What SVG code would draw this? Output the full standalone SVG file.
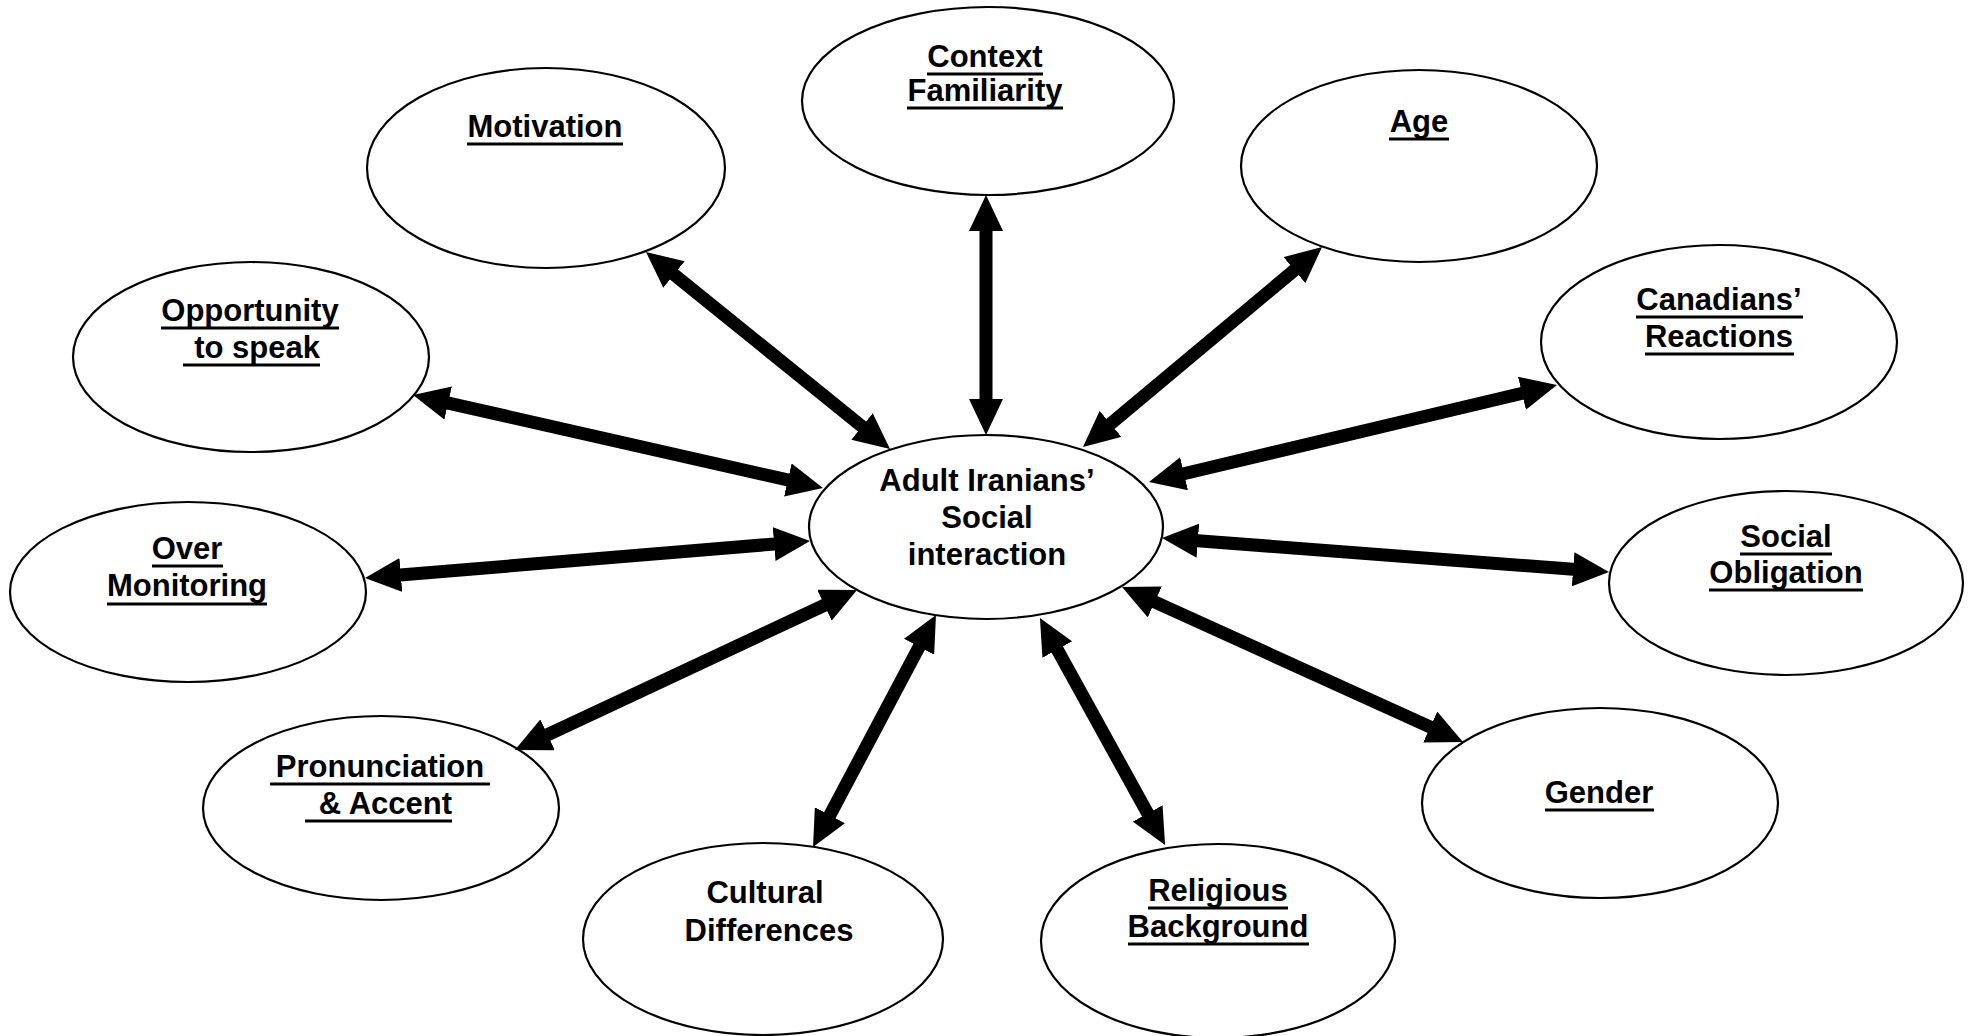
<svg xmlns="http://www.w3.org/2000/svg" width="1971" height="1036" viewBox="0 0 1971 1036">
<style>
.node ellipse{fill:#fff;stroke:#000;stroke-width:2.2}
.node text{font-family:"Liberation Sans",Arial,Helvetica,sans-serif;font-weight:bold;font-size:31px;fill:#000;text-anchor:middle}
.node line{stroke:#000;stroke-width:3}
#connectors line{stroke:#000;stroke-width:13;marker-start:url(#ah);marker-end:url(#ah)}
</style>
<defs>
<marker id="ah" markerUnits="userSpaceOnUse" markerWidth="36" markerHeight="34" refX="10" refY="17" orient="auto-start-reverse" viewBox="0 0 36 34">
<path d="M0,0 L36,17 L0,34 Z" fill="#000"/>
</marker>
</defs>
<rect width="1971" height="1036" fill="#fff"/>

<g id="node-central" class="node">
<ellipse cx="986" cy="527" rx="177" ry="92"/>
<text x="987" y="491">Adult Iranians’</text>
<text x="987" y="528">Social</text>
<text x="987" y="565">interaction</text>
</g>

<g id="node-context" class="node">
<ellipse cx="988" cy="101" rx="186" ry="94"/>
<text x="985" y="67">Context</text>
<line x1="927" y1="74" x2="1043" y2="74"/>
<text x="985" y="101">Familiarity</text>
<line x1="907" y1="108" x2="1063" y2="108"/>
</g>

<g id="node-motivation" class="node">
<ellipse cx="546" cy="168" rx="179" ry="100"/>
<text x="545" y="137">Motivation</text>
<line x1="467" y1="144" x2="623" y2="144"/>
</g>

<g id="node-age" class="node">
<ellipse cx="1419" cy="166" rx="178" ry="96"/>
<text x="1419" y="132">Age</text>
<line x1="1389" y1="139" x2="1449" y2="139"/>
</g>

<g id="node-canadians" class="node">
<ellipse cx="1719" cy="342" rx="178" ry="97"/>
<text x="1719" y="310">Canadians’</text>
<line x1="1636" y1="317" x2="1803" y2="317"/>
<text x="1719" y="347">Reactions</text>
<line x1="1645" y1="354" x2="1794" y2="354"/>
</g>

<g id="node-opportunity" class="node">
<ellipse cx="251" cy="357" rx="178" ry="95"/>
<text x="250" y="321">Opportunity</text>
<line x1="161" y1="328" x2="339" y2="328"/>
<text x="320" y="358" style="text-anchor:end">to speak</text>
<line x1="183" y1="365" x2="320" y2="365"/>
</g>

<g id="node-over" class="node">
<ellipse cx="188" cy="592" rx="178" ry="90"/>
<text x="187" y="559">Over</text>
<line x1="152" y1="566" x2="223" y2="566"/>
<text x="187" y="596">Monitoring</text>
<line x1="107" y1="604" x2="267" y2="604"/>
</g>

<g id="node-social" class="node">
<ellipse cx="1786" cy="583" rx="177" ry="92"/>
<text x="1786" y="547">Social</text>
<line x1="1740" y1="554" x2="1832" y2="554"/>
<text x="1786" y="583">Obligation</text>
<line x1="1709" y1="590" x2="1863" y2="590"/>
</g>

<g id="node-pronunciation" class="node">
<ellipse cx="381" cy="808" rx="178" ry="92"/>
<text x="380" y="777">Pronunciation</text>
<line x1="270" y1="784" x2="490" y2="784"/>
<text x="452" y="814" style="text-anchor:end">&amp; Accent</text>
<line x1="305" y1="821" x2="452" y2="821"/>
</g>

<g id="node-gender" class="node">
<ellipse cx="1600" cy="803" rx="178" ry="95"/>
<text x="1599" y="803">Gender</text>
<line x1="1545" y1="810" x2="1654" y2="810"/>
</g>

<g id="node-cultural" class="node">
<ellipse cx="763" cy="939" rx="180" ry="96"/>
<text x="765" y="903">Cultural</text>
<text x="769" y="941">Differences</text>
</g>

<g id="node-religious" class="node">
<ellipse cx="1218" cy="941" rx="177" ry="97"/>
<text x="1218" y="901">Religious</text>
<line x1="1148" y1="908" x2="1288" y2="908"/>
<text x="1218" y="937">Background</text>
<line x1="1128" y1="944" x2="1309" y2="944"/>
</g>

<g id="connectors">
<line x1="986" y1="221" x2="986" y2="409"/>
<line x1="666.2" y1="268.3" x2="869.8" y2="432.7"/>
<line x1="1302.1" y1="263.7" x2="1102.9" y2="430.3"/>
<line x1="1531.7" y1="391" x2="1174.3" y2="476"/>
<line x1="438.4" y1="400.8" x2="797.6" y2="482.2"/>
<line x1="390.9" y1="575.8" x2="784.1" y2="543.2"/>
<line x1="1187.9" y1="540" x2="1583.1" y2="570"/>
<line x1="1145.7" y1="597.8" x2="1439.3" y2="731.2"/>
<line x1="538.5" y1="739" x2="833.5" y2="601"/>
<line x1="923.8" y1="638" x2="825.2" y2="824"/>
<line x1="1052.5" y1="640.8" x2="1152.5" y2="822.2"/>
</g>
</svg>
